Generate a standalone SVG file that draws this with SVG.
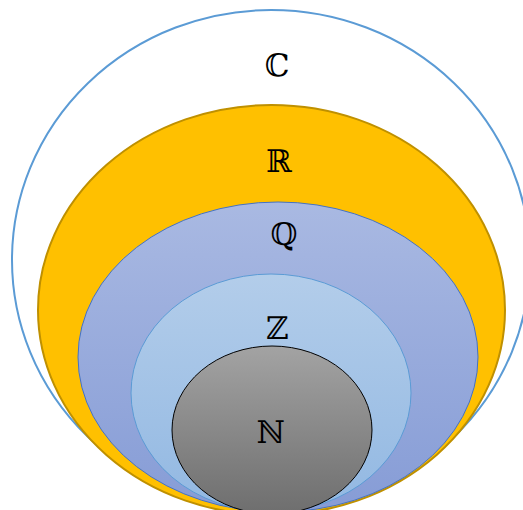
<svg xmlns="http://www.w3.org/2000/svg" width="523" height="510" viewBox="0 0 523 510">
<style>
.lbl{font-family:"DejaVu Serif","Noto Sans",serif;font-size:31px;fill:#000;text-anchor:middle}
</style>
<defs>
<linearGradient id="gQ" x1="0" y1="0" x2="0" y2="1"><stop offset="0" stop-color="#a9b9e2"/><stop offset="1" stop-color="#869cd6"/></linearGradient>
<linearGradient id="gZ" x1="0" y1="0" x2="0" y2="1"><stop offset="0" stop-color="#b3cdea"/><stop offset="1" stop-color="#92b8e2"/></linearGradient>
<linearGradient id="gN" x1="0" y1="0" x2="0" y2="1"><stop offset="0" stop-color="#a3a3a3"/><stop offset="1" stop-color="#6e6e6e"/></linearGradient>
</defs>
<rect width="523" height="510" fill="#fff"/>
<g id="C"><ellipse cx="271" cy="260" rx="259" ry="250" fill="#fff" stroke="#5b9bd5" stroke-width="2"/><text class="lbl" x="277" y="76">ℂ</text></g>
<g id="R"><ellipse cx="271.5" cy="310" rx="233.5" ry="205" fill="#ffc000" stroke="#bf9000" stroke-width="2"/><text class="lbl" x="279" y="172">ℝ</text></g>
<g id="Q"><ellipse cx="278" cy="357" rx="200" ry="155" fill="url(#gQ)" stroke="#4472c4" stroke-width="1"/><text class="lbl" x="284" y="245">ℚ</text></g>
<g id="Z"><ellipse cx="271" cy="393" rx="140" ry="119" fill="url(#gZ)" stroke="#5b9bd5" stroke-width="1"/><text class="lbl" x="277" y="339">ℤ</text></g>
<g id="N"><ellipse cx="272" cy="430" rx="100" ry="84" fill="url(#gN)" stroke="#000" stroke-width="1"/><text class="lbl" x="271" y="443">ℕ</text></g>
<g id="connectors"/>
</svg>
